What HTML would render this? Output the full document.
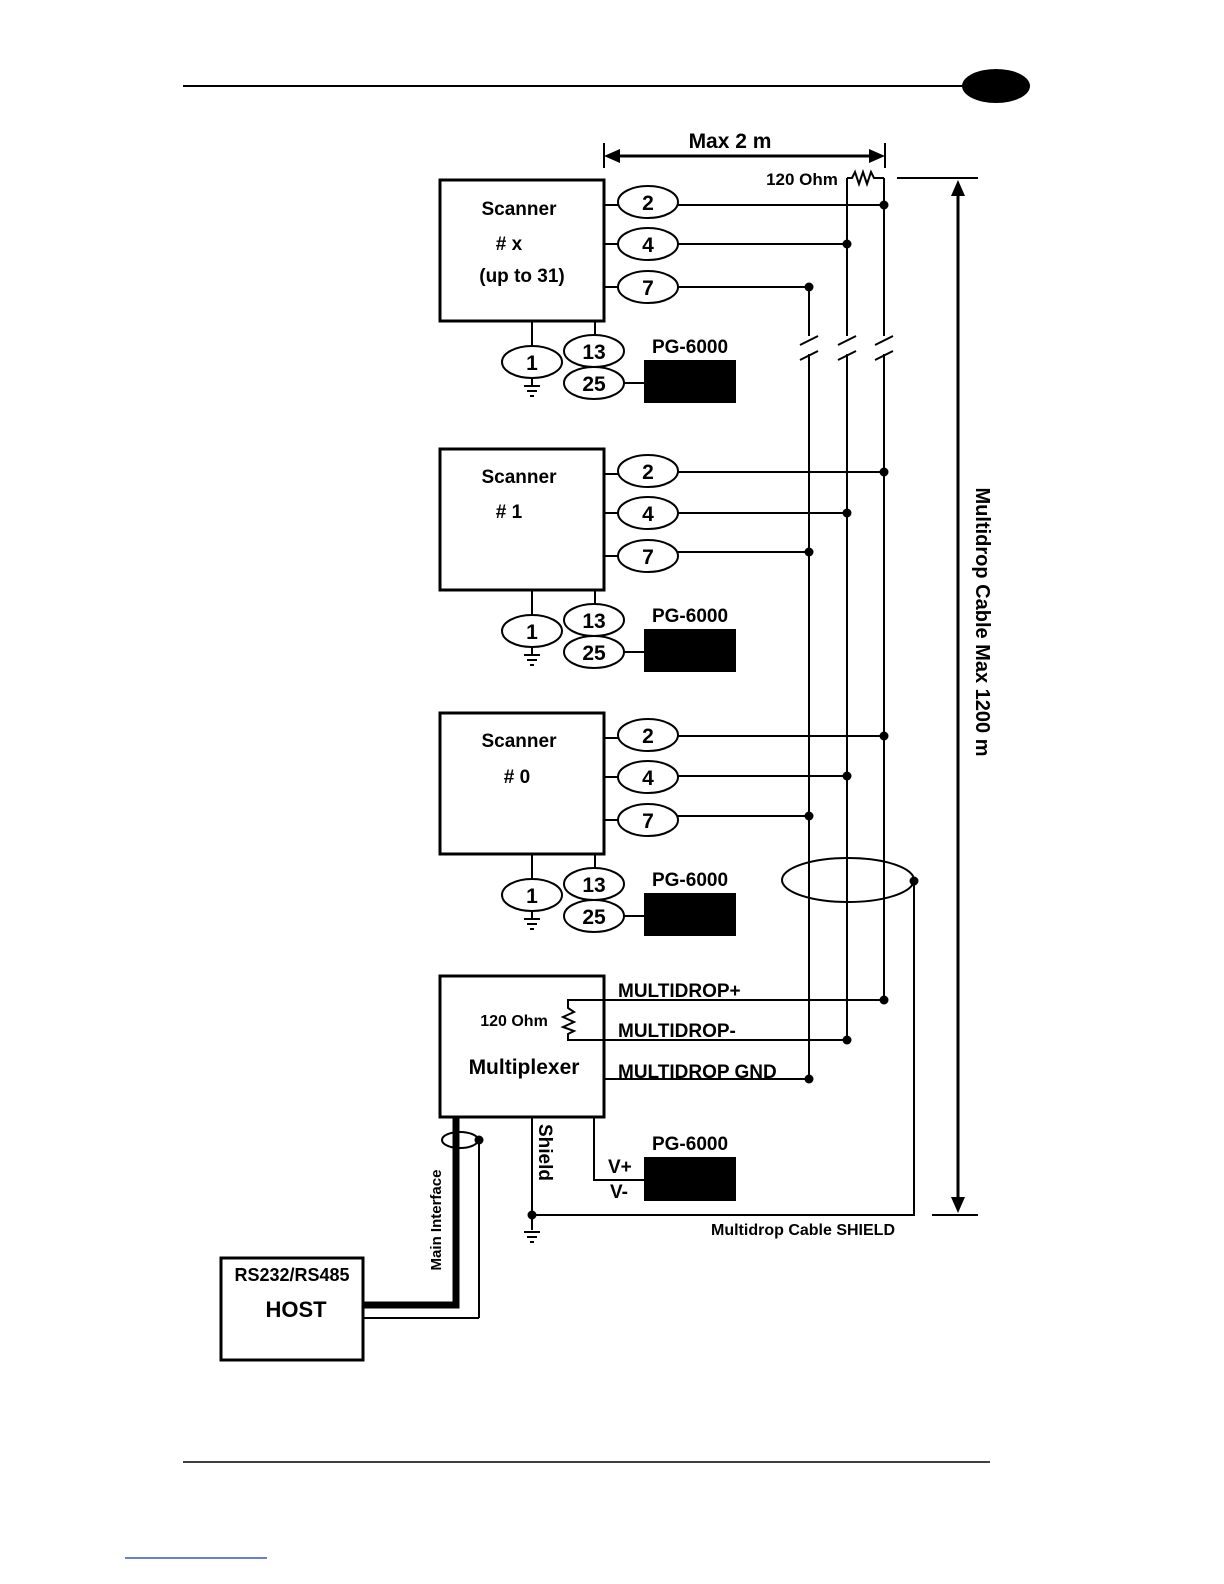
<!DOCTYPE html>
<html><head><meta charset="utf-8"><style>
html,body{margin:0;padding:0;background:#fff;overflow:hidden;width:1224px;height:1584px}
svg{display:block;width:1224px;height:1584px}
text{font-family:"Liberation Sans",Arial,sans-serif;font-weight:bold;fill:#000}
</style></head><body>
<svg width="1224" height="1584" viewBox="0 0 1224 1584" xmlns="http://www.w3.org/2000/svg">
<defs>
<g id="gnd" stroke="#000" stroke-width="2"><line x1="-8" y1="0" x2="8" y2="0"/><line x1="-5" y1="5" x2="5" y2="5"/><line x1="-2" y1="10" x2="2" y2="10"/></g>
<g id="scan">
 <rect x="440" y="180" width="164" height="141" fill="none" stroke="#000" stroke-width="3"/>
 <g fill="none" stroke="#000" stroke-width="2">
 <line x1="604" y1="205" x2="618" y2="205"/><line x1="604" y1="244" x2="618" y2="244"/><line x1="604" y1="287" x2="618" y2="287"/>
 <ellipse cx="648" cy="202" rx="30" ry="16"/><ellipse cx="648" cy="244" rx="30" ry="16"/><ellipse cx="648" cy="287" rx="30" ry="16"/>
 <line x1="532" y1="321" x2="532" y2="346"/><line x1="595" y1="321" x2="595" y2="336"/>
 <ellipse cx="532" cy="362" rx="30" ry="16"/><ellipse cx="594" cy="351" rx="30" ry="16"/><ellipse cx="594" cy="383" rx="30" ry="16"/>
 <line x1="532" y1="378" x2="532" y2="385"/><line x1="624" y1="383" x2="644" y2="383"/>
 </g>
 <use href="#gnd" x="532" y="386"/>
 <rect x="644" y="360" width="92" height="43" fill="#000"/>
 <text x="690" y="353" font-size="19" text-anchor="middle">PG-6000</text>
 <text x="648" y="210" font-size="21" text-anchor="middle">2</text>
 <text x="648" y="252" font-size="21" text-anchor="middle">4</text>
 <text x="648" y="295" font-size="21" text-anchor="middle">7</text>
 <text x="532" y="370" font-size="21" text-anchor="middle">1</text>
 <text x="594" y="359" font-size="21" text-anchor="middle">13</text>
 <text x="594" y="391" font-size="21" text-anchor="middle">25</text>
</g>
</defs>
<line x1="183" y1="86" x2="962" y2="86" stroke="#000" stroke-width="2"/>
<ellipse cx="996" cy="86" rx="34" ry="17" fill="#000"/>
<line x1="183" y1="1462" x2="990" y2="1462" stroke="#000" stroke-width="1.5"/>
<line x1="125" y1="1558" x2="267" y2="1558" stroke="#3355cc" stroke-width="1.5"/>

<g stroke="#000" stroke-width="2" fill="none">
<line x1="604" y1="143" x2="604" y2="168"/><line x1="885" y1="143" x2="885" y2="168"/>
<line x1="612" y1="156" x2="877" y2="156" stroke-width="3"/>
</g>
<polygon points="604,156 620,149 620,163" fill="#000"/><polygon points="885,156 869,149 869,163" fill="#000"/>
<text x="730" y="148" font-size="21" text-anchor="middle">Max 2 m</text>
<text x="802" y="185" font-size="17" text-anchor="middle">120 Ohm</text>

<use href="#scan"/>
<use href="#scan" y="269"/>
<use href="#scan" y="533"/>
<text x="519" y="215" font-size="19" text-anchor="middle">Scanner</text>
<text x="509" y="250" font-size="19" text-anchor="middle"># x</text>
<text x="522" y="282" font-size="19" text-anchor="middle">(up to 31)</text>
<text x="519" y="483" font-size="19" text-anchor="middle">Scanner</text>
<text x="509" y="518" font-size="19" text-anchor="middle"># 1</text>
<text x="519" y="747" font-size="19" text-anchor="middle">Scanner</text>
<text x="517" y="783" font-size="19" text-anchor="middle"># 0</text>

<g stroke="#000" stroke-width="2" fill="none">
<line x1="678" y1="205" x2="884" y2="205"/><line x1="678" y1="244" x2="847" y2="244"/><line x1="678" y1="287" x2="809" y2="287"/>
<line x1="678" y1="472" x2="884" y2="472"/><line x1="678" y1="513" x2="847" y2="513"/><line x1="678" y1="552" x2="809" y2="552"/>
<line x1="678" y1="736" x2="884" y2="736"/><line x1="678" y1="776" x2="847" y2="776"/><line x1="678" y1="816" x2="809" y2="816"/>
<line x1="809" y1="287" x2="809" y2="336"/><line x1="809" y1="354" x2="809" y2="1079"/>
<line x1="847" y1="178" x2="847" y2="336"/><line x1="847" y1="354" x2="847" y2="1040"/>
<line x1="884" y1="178" x2="884" y2="336"/><line x1="884" y1="354" x2="884" y2="1000"/>
<line x1="800" y1="345" x2="818" y2="336"/><line x1="800" y1="360" x2="818" y2="351"/>
<line x1="838" y1="345" x2="856" y2="336"/><line x1="838" y1="360" x2="856" y2="351"/>
<line x1="875" y1="345" x2="893" y2="336"/><line x1="875" y1="360" x2="893" y2="351"/>
<polyline points="847,178 852,178 855,172 859,184 863,172 867,184 871,172 874,178 884,178"/>
<ellipse cx="848" cy="880" rx="66" ry="22"/>
<polyline points="914,881 914,1215 532,1215"/>
<line x1="897" y1="178" x2="978" y2="178"/><line x1="932" y1="1215" x2="978" y2="1215"/>
<line x1="958" y1="192" x2="958" y2="1201" stroke-width="3"/>
<rect x="440" y="976" width="164" height="141" stroke-width="3"/>
<line x1="604" y1="1000" x2="884" y2="1000"/><line x1="604" y1="1040" x2="847" y2="1040"/><line x1="604" y1="1079" x2="809" y2="1079"/>
<polyline points="604,1000 568,1000 568,1008 574,1012 563,1017 574,1022 563,1027 574,1031 568,1034 568,1040 604,1040"/>
<line x1="532" y1="1117" x2="532" y2="1230"/>
<polyline points="594,1117 594,1180 644,1180"/>
<line x1="479" y1="1140" x2="479" y2="1318"/><line x1="363" y1="1318" x2="479" y2="1318"/>
<ellipse cx="460" cy="1140" rx="18" ry="8"/>
<rect x="221" y="1258" width="142" height="102" stroke-width="3"/>
</g>
<polyline points="456,1117 456,1305 363,1305" fill="none" stroke="#000" stroke-width="7"/>
<use href="#gnd" x="532" y="1232"/>
<g fill="#000">
<circle cx="884" cy="205" r="4.5"/><circle cx="847" cy="244" r="4.5"/><circle cx="809" cy="287" r="4.5"/>
<circle cx="884" cy="472" r="4.5"/><circle cx="847" cy="513" r="4.5"/><circle cx="809" cy="552" r="4.5"/>
<circle cx="884" cy="736" r="4.5"/><circle cx="847" cy="776" r="4.5"/><circle cx="809" cy="816" r="4.5"/>
<circle cx="884" cy="1000" r="4.5"/><circle cx="847" cy="1040" r="4.5"/><circle cx="809" cy="1079" r="4.5"/>
<circle cx="914" cy="881" r="4.5"/><circle cx="532" cy="1215" r="4.5"/><circle cx="479" cy="1140" r="4.5"/>
</g>
<polygon points="958,180 951,196 965,196" fill="#000"/><polygon points="958,1213 951,1197 965,1197" fill="#000"/>
<text x="0" y="0" font-size="20" text-anchor="middle" transform="translate(976,622) rotate(90)">Multidrop Cable   Max 1200 m</text>

<text x="618" y="997" font-size="19">MULTIDROP+</text>
<text x="618" y="1037" font-size="19">MULTIDROP-</text>
<text x="618" y="1078" font-size="19">MULTIDROP GND</text>
<text x="514" y="1026" font-size="16" text-anchor="middle">120 Ohm</text>
<text x="524" y="1074" font-size="21" text-anchor="middle">Multiplexer</text>
<text x="0" y="0" font-size="19" transform="translate(539,1124) rotate(90)">Shield</text>
<text x="0" y="0" font-size="15" text-anchor="middle" transform="translate(441,1220) rotate(-90)">Main Interface</text>
<rect x="644" y="1157" width="92" height="44" fill="#000"/>
<text x="690" y="1150" font-size="19" text-anchor="middle">PG-6000</text>
<text x="608" y="1173" font-size="19">V+</text>
<text x="610" y="1198" font-size="19">V-</text>
<text x="803" y="1235" font-size="16" text-anchor="middle">Multidrop Cable SHIELD</text>
<text x="292" y="1281" font-size="18" text-anchor="middle">RS232/RS485</text>
<text x="296" y="1317" font-size="22" text-anchor="middle">HOST</text>
</svg>
</body></html>
